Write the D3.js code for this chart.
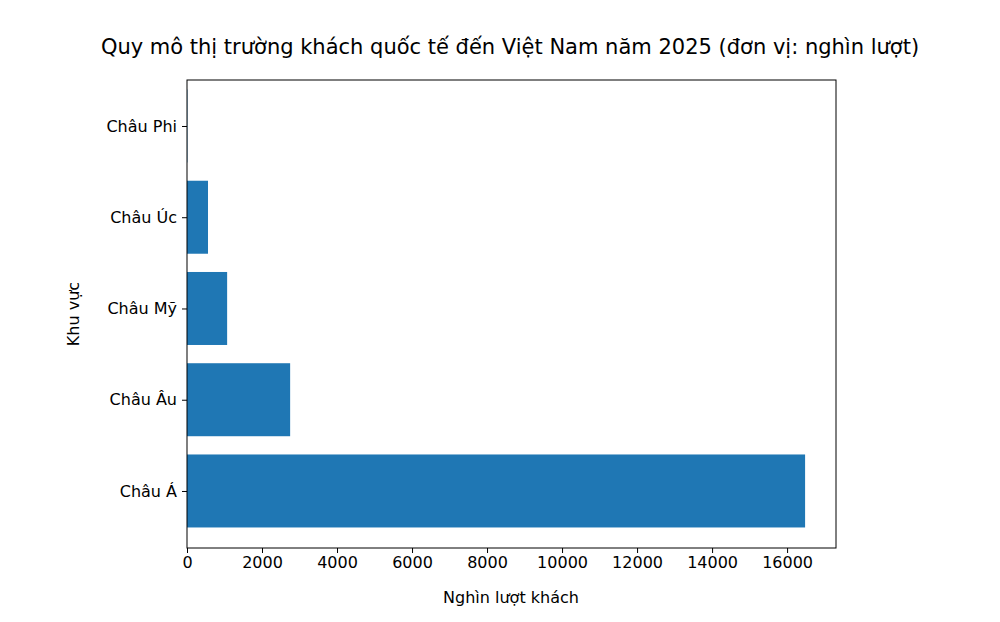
<!DOCTYPE html>
<html><head><meta charset="utf-8">
<script src="https://cdn.jsdelivr.net/npm/d3@7"></script>
<style>body{margin:0;background:#fff}text{font-family:"DejaVu Sans",sans-serif;fill:#000}</style>
</head><body><svg id="c" width="1000" height="622"></svg>
<script>
const categories = ["Châu Á","Châu Âu","Châu Mỹ","Châu Úc","Châu Phi"];
const values = [16480, 2750, 1070, 560, 10];
const xTicks = [0,2000,4000,6000,8000,10000,12000,14000,16000];

const svg = d3.select("#c");
const L=187,R=836,T=80,B=548;
const x = d3.scaleLinear().domain([0, 16480*1.05]).range([L,R]);
const y = d3.scaleLinear().domain([-0.625, 4.504]).range([B,T]);

svg.selectAll("rect.bar").data(values).join("rect")
  .attr("x", x(0)).attr("y",(d,i)=>y(i+0.4))
  .attr("width",d=>x(d)-x(0)).attr("height",(d,i)=>y(i-0.4)-y(i+0.4))
  .attr("fill","#1f77b4");

svg.append("rect").attr("x",L).attr("y",T).attr("width",R-L).attr("height",B-T)
  .attr("fill","none").attr("stroke","#000").attr("stroke-width",1);

const xa = svg.append("g").attr("transform",`translate(0,${B})`)
  .call(d3.axisBottom(x).tickValues(xTicks).tickSize(5).tickPadding(4).tickFormat(d3.format("d")));
const ya = svg.append("g").attr("transform",`translate(${L},0)`)
  .call(d3.axisLeft(y).tickValues([0,1,2,3,4]).tickSize(5).tickPadding(5).tickFormat(i=>categories[i]));
[xa,ya].forEach(a=>{a.select(".domain").remove();a.selectAll("text").style("font-size","16px").style("font-family","DejaVu Sans");});

svg.append("text").attr("x",510).attr("y",54).attr("text-anchor","middle").style("font-size","21px")
  .text("Quy mô thị trường khách quốc tế đến Việt Nam năm 2025 (đơn vị: nghìn lượt)");
svg.append("text").attr("x",511).attr("y",603).attr("text-anchor","middle").style("font-size","16px").text("Nghìn lượt khách");
svg.append("text").attr("transform",`translate(79,${(T+B)/2}) rotate(-90)`).attr("text-anchor","middle").style("font-size","16px").text("Khu vực");
</script></body></html>
